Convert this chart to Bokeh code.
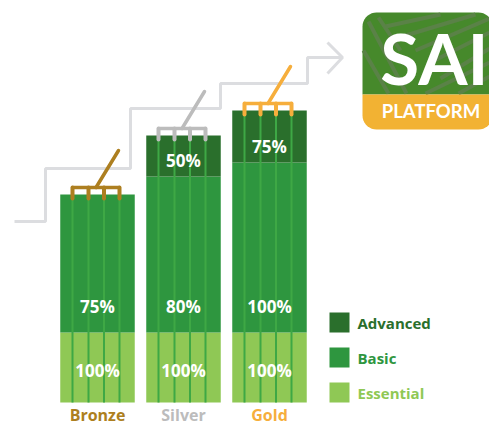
from bokeh.plotting import figure
from bokeh.models import Range1d
from bokeh.core.properties import value
from bokeh.embed import file_html
from bokeh.resources import INLINE
import numpy as np

categories = ["Bronze", "Silver", "Gold"]
essential = [70, 70, 70]
basic = [138, 156, 170]
advanced = [0, 41, 52]
essential_labels = ["100%", "100%", "100%"]
basic_labels = ["75%", "80%", "100%"]
advanced_labels = ["", "50%", "75%"]
tier_colors = ["#ad7f20", "#bcbcbc", "#f6ae3c"]
series_names = ["Advanced", "Basic", "Essential"]
series_colors = ["#2a6f2c", "#2e963f", "#8fc855"]
tine_offsets = [-25, -9, 6.5, 22]
FONT = value("Open Sans")

STEP = 86.0
idx = np.arange(3)
ess = np.array(essential)
bas = ess + np.array(basic)
adv = bas + np.array(advanced)

p = figure(width=489, height=425, output_backend="svg", toolbar_location=None,
           x_range=Range1d(-97 / STEP, (489 - 97) / STEP),
           y_range=Range1d(402 - 425, 402),
           x_axis_location=None, y_axis_location=None, min_border=0,
           outline_line_color=None, background_fill_color="white")
p.grid.visible = False
p.extra_x_ranges["px"] = Range1d(0, 489)
p.extra_y_ranges["px"] = Range1d(425, 0)
px = dict(x_range_name="px", y_range_name="px")

# stair arrow
p.line([14, 45, 45, 130, 130, 220, 220, 307, 307, 342], [221, 221, 168, 168, 108, 108, 83, 83, 57, 57],
       line_color="#dcdde0", line_width=3, **px)
p.line([327, 342, 327], [42, 57, 73], line_color="#dcdde0", line_width=3, **px)

# stacked bars
w = 74.5 / STEP
p.vbar(x=idx, bottom=0, top=ess, width=w, fill_color=series_colors[2], line_color=None)
p.vbar(x=idx, bottom=ess, top=bas, width=w, fill_color=series_colors[1], line_color=None)
p.vbar(x=idx, bottom=bas, top=adv, width=w, fill_color=series_colors[0], line_color=None)

# rake tines and rake heads
for i, top in enumerate(adv):
    xs = [i + o / STEP for o in tine_offsets]
    p.segment(x0=xs, y0=[0] * 4, x1=xs, y1=[top] * 4, line_color="#3ea845", line_width=2)
    head = top + 7
    p.segment(x0=xs, y0=[head] * 4, x1=xs, y1=[top - 4] * 4, line_color=tier_colors[i], line_width=4, line_cap="round")
    p.line([xs[0], xs[-1]], [head, head], line_color=tier_colors[i], line_width=3.5)
    p.line([i - 1.5 / STEP, i + 21 / STEP], [head, head + 37], line_color=tier_colors[i], line_width=3.5, line_cap="round")

# value labels
txt = dict(text_color="white", text_font=FONT, text_font_style="bold", text_font_size="17px",
           text_align="center", text_baseline="middle")
p.text(x=idx, y=[32] * 3, text=essential_labels, **txt)
p.text(x=idx, y=ess + 26, text=basic_labels, **txt)
p.text(x=idx[1:], y=bas[1:] + 16.5, text=advanced_labels[1:], **txt)

# category labels
for i, c in enumerate(categories):
    p.text(x=[i], y=[-12], text=[c], text_color=tier_colors[i], text_font=FONT, text_font_style="bold",
           text_font_size="16px", text_align="center", text_baseline="middle")

# legend
for name, color, yc in zip(series_names, series_colors, [322, 357, 392]):
    p.rect(x=[339], y=[yc], width=20, height=20, fill_color=color, line_color=None, **px)
    p.text(x=[357], y=[yc], text=[name], text_color=color, text_font=FONT, text_font_style="bold",
           text_font_size="15px", text_align="left", text_baseline="middle", **px)

# logo
def rounded(x0, y0, x1, y1, r, top=True, bottom=True):
    a = np.linspace(0, np.pi / 2, 10)
    xs, ys = [], []
    if top:
        xs += list(x0 + r - r * np.cos(a)); ys += list(y0 + r - r * np.sin(a))
        xs += list(x1 - r + r * np.sin(a)); ys += list(y0 + r - r * np.cos(a))
    else:
        xs += [x0, x1]; ys += [y0, y0]
    if bottom:
        xs += list(x1 - r + r * np.cos(a)); ys += list(y1 - r + r * np.sin(a))
        xs += list(x0 + r - r * np.sin(a)); ys += list(y1 - r + r * np.cos(a))
    else:
        xs += [x1, x0]; ys += [y1, y1]
    return xs, ys

gx, gy = rounded(362, 12, 492, 94, 14, bottom=False)
p.patch(gx, gy, fill_color="#46892b", line_color=None, **px)
stripes = [([385, 440], [26, 14]), ([395, 475], [38, 14]), ([415, 489], [50, 18]),
           ([430, 489], [62, 32]), ([440, 489], [78, 48]), ([425, 489], [93, 62]), ([458, 489], [93, 76]),
           ([368, 406], [21, 93]), ([363, 388], [50, 93]), ([378, 400], [17, 50])]
for sx, sy in stripes:
    p.line(sx, sy, line_color="#5a8247", line_width=4, **px)
ox, oy = rounded(362, 94, 492, 129, 14, top=False)
p.patch(ox, oy, fill_color="#f2b233", line_color=None, **px)
p.text(x=[434], y=[57], text=["SAI"], text_color="white", text_font=value("Lato"), text_font_style="bold",
       text_font_size="71px", text_align="center", text_baseline="middle", **px)
p.text(x=[430.5], y=[110], text=["PLATFORM"], text_color="white", text_font=value("Lato"), text_font_style="bold",
       text_font_size="18.5px", text_align="center", text_baseline="middle", **px)

open("out.html", "w").write(file_html(p, INLINE))
